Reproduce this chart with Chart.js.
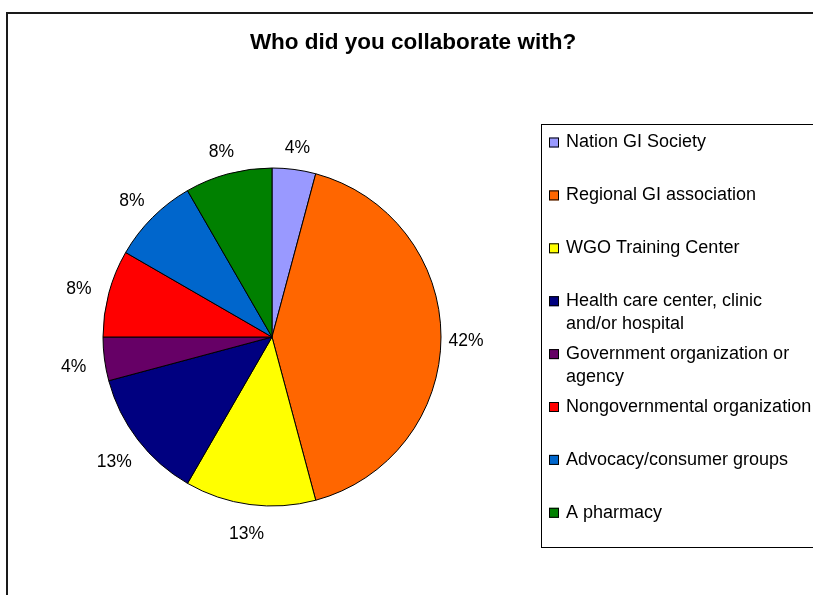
<!DOCTYPE html>
<html>
<head>
<meta charset="utf-8">
<script src="https://cdn.jsdelivr.net/npm/chart.js@4/dist/chart.umd.min.js"></script>
<style>
  html, body { margin: 0; padding: 0; background: #fff; overflow: hidden; }
  #wrap { position: relative; width: 813px; height: 595px; }
  canvas { display: block; }
</style>
</head>
<body>
<div id="wrap"><canvas id="c" width="813" height="595"></canvas></div>
<script>
const chartTitle = "Who did you collaborate with?";
const categories = [
  "Nation GI Society",
  "Regional GI association",
  "WGO Training Center",
  ["Health care center, clinic", "and/or hospital"],
  ["Government organization or", "agency"],
  "Nongovernmental organization",
  "Advocacy/consumer groups",
  "A pharmacy"
];
const counts = [1, 10, 3, 3, 1, 2, 2, 2];
const colors = ["#9999FF", "#FF6600", "#FFFF00", "#000080", "#660066", "#FF0000", "#0066CC", "#008000"];

const FONT = "'Liberation Sans', Arial, sans-serif";

const decorPlugin = {
  id: 'decor',
  beforeDraw(chart) {
    const ctx = chart.ctx;
    ctx.save();
    ctx.fillStyle = '#fff';
    ctx.fillRect(0, 0, chart.width, chart.height);
    // outer frame
    ctx.strokeStyle = '#1a1a1a';
    ctx.lineWidth = 2;
    ctx.strokeRect(7, 13, 900, 700);
    // title
    ctx.fillStyle = '#000';
    ctx.font = "bold 22.5px " + FONT;
    ctx.textAlign = 'center';
    ctx.textBaseline = 'middle';
    ctx.fillText(chartTitle, 413, 43);
    ctx.restore();
  },
  afterDatasetsDraw(chart) {
    const ctx = chart.ctx;
    const meta = chart.getDatasetMeta(0);
    const data = chart.data.datasets[0].data;
    const total = data.reduce((a, b) => a + b, 0);
    ctx.save();
    ctx.fillStyle = '#000';
    ctx.font = "17.5px " + FONT;
    ctx.textAlign = 'center';
    ctx.textBaseline = 'middle';
    meta.data.forEach((arc, i) => {
      const mid = (arc.startAngle + arc.endAngle) / 2;
      const left = Math.max(0, -Math.cos(mid));
      const d = arc.outerRadius + 25 + 6 * left;
      const x = arc.x + Math.cos(mid) * d;
      const y = arc.y + Math.sin(mid) * d + 4;
      ctx.fillText(Math.round(data[i] / total * 100) + '%', x, y);
    });
    // legend
    ctx.strokeStyle = '#000';
    ctx.lineWidth = 1;
    ctx.strokeRect(541.5, 124.5, 400, 423);
    ctx.textAlign = 'left';
    ctx.font = "18px " + FONT;
    const labels = chart.data.labels;
    labels.forEach((lab, i) => {
      const y0 = 142.5 + i * 52.9;
      ctx.fillStyle = colors[i];
      ctx.fillRect(549, y0 - 5, 10, 10);
      ctx.strokeStyle = '#000';
      ctx.strokeRect(549.5, y0 - 4.5, 9, 9);
      ctx.fillStyle = '#000';
      const lines = Array.isArray(lab) ? lab : [lab];
      lines.forEach((ln, j) => ctx.fillText(ln, 566, y0 + j * 22.5));
    });
    ctx.restore();
  }
};

new Chart(document.getElementById('c'), {
  type: 'pie',
  data: {
    labels: categories,
    datasets: [{
      data: counts,
      backgroundColor: colors,
      borderColor: '#000',
      borderWidth: 1,
      radius: 169
    }]
  },
  options: {
    responsive: false,
    animation: false,
    layout: { padding: { left: 103, right: 372, top: 168, bottom: 89 } },
    plugins: {
      legend: { display: false },
      title: { display: false },
      tooltip: { enabled: false }
    }
  },
  plugins: [decorPlugin]
});
</script>
</body>
</html>
